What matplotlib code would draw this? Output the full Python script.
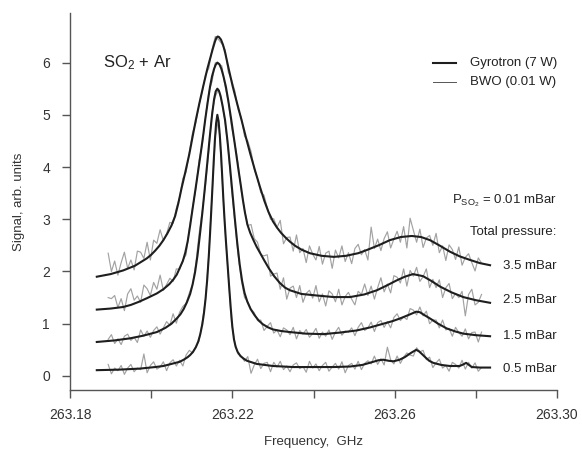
import matplotlib
matplotlib.use("Agg")
import matplotlib.pyplot as plt

plt.rcParams["font.family"] = ["Liberation Sans", "DejaVu Sans"]
plt.rcParams["mathtext.fontset"] = "custom"
plt.rcParams["mathtext.rm"] = "Liberation Sans"
plt.rcParams["mathtext.it"] = "Liberation Sans"

# gyrotron spectra (smooth), one frequency list per pressure
gyro_f_35 = [263.1866, 263.1900, 263.1931, 263.1960, 263.1989, 263.2000, 263.2010, 263.2020,
             263.2030, 263.2040, 263.2050, 263.2059, 263.2067, 263.2075, 263.2084, 263.2094,
             263.2102, 263.2110, 263.2119, 263.2128, 263.2138, 263.2146, 263.2152, 263.2157,
             263.2161, 263.2164, 263.2167, 263.2172, 263.2177, 263.2182, 263.2191, 263.2201,
             263.2212, 263.2223, 263.2233, 263.2244, 263.2256, 263.2268, 263.2279, 263.2289,
             263.2300, 263.2310, 263.2320, 263.2331, 263.2342, 263.2355, 263.2370, 263.2391,
             263.2420, 263.2450, 263.2480, 263.2510, 263.2531, 263.2560, 263.2588, 263.2615,
             263.2642, 263.2665, 263.2687, 263.2710, 263.2736, 263.2760, 263.2786, 263.2810,
             263.2835]
gyro_v_35 = [1.90, 1.95, 2.02, 2.11, 2.25, 2.32, 2.40, 2.49,
             2.60, 2.73, 2.88, 3.06, 3.31, 3.60, 3.90, 4.25,
             4.58, 4.90, 5.23, 5.54, 5.87, 6.10, 6.27, 6.40,
             6.48, 6.50, 6.49, 6.44, 6.34, 6.20, 5.88, 5.54,
             5.21, 4.89, 4.58, 4.26, 3.93, 3.62, 3.35, 3.14,
             2.96, 2.84, 2.74, 2.65, 2.57, 2.49, 2.42, 2.35,
             2.30, 2.28, 2.30, 2.35, 2.41, 2.50, 2.60, 2.66,
             2.68, 2.66, 2.60, 2.50, 2.38, 2.29, 2.22, 2.16,
             2.12]

gyro_f_25 = [263.1866, 263.1900, 263.1931, 263.1950, 263.1970, 263.1990, 263.2014, 263.2030,
             263.2045, 263.2055, 263.2063, 263.2070, 263.2078, 263.2084, 263.2090, 263.2096,
             263.2102, 263.2110, 263.2116, 263.2122, 263.2128, 263.2133, 263.2139, 263.2145,
             263.2150, 263.2155, 263.2159, 263.2163, 263.2168, 263.2173, 263.2178, 263.2184,
             263.2190, 263.2197, 263.2203, 263.2209, 263.2215, 263.2221, 263.2226, 263.2231,
             263.2237, 263.2244, 263.2252, 263.2260, 263.2268, 263.2278, 263.2290, 263.2303,
             263.2317, 263.2330, 263.2342, 263.2370, 263.2408, 263.2450, 263.2490, 263.2525,
             263.2556, 263.2580, 263.2605, 263.2625, 263.2645, 263.2670, 263.2690, 263.2712,
             263.2740, 263.2769, 263.2800, 263.2835]
gyro_v_25 = [1.27, 1.29, 1.32, 1.36, 1.42, 1.49, 1.58, 1.66,
             1.76, 1.85, 1.94, 2.06, 2.20, 2.36, 2.58, 2.88,
             3.20, 3.62, 3.94, 4.26, 4.60, 4.90, 5.23, 5.54,
             5.74, 5.88, 5.96, 6.00, 5.97, 5.88, 5.74, 5.54,
             5.27, 4.92, 4.60, 4.28, 3.95, 3.64, 3.37, 3.13,
             2.90, 2.74, 2.60, 2.47, 2.36, 2.22, 2.06, 1.91,
             1.78, 1.69, 1.64, 1.57, 1.54, 1.51, 1.51, 1.56,
             1.64, 1.73, 1.83, 1.90, 1.95, 1.91, 1.82, 1.71,
             1.60, 1.51, 1.45, 1.40]

gyro_f_15 = [263.1866, 263.1910, 263.1948, 263.1980, 263.2014, 263.2035, 263.2050, 263.2063,
             263.2072, 263.2080, 263.2088, 263.2096, 263.2102, 263.2108, 263.2114, 263.2120,
             263.2126, 263.2132, 263.2138, 263.2144, 263.2150, 263.2155, 263.2159, 263.2163,
             263.2167, 263.2171, 263.2176, 263.2182, 263.2188, 263.2194, 263.2200, 263.2206,
             263.2212, 263.2218, 263.2224, 263.2230, 263.2237, 263.2245, 263.2255, 263.2265,
             263.2275, 263.2288, 263.2300, 263.2320, 263.2342, 263.2380, 263.2424, 263.2465,
             263.2506, 263.2540, 263.2572, 263.2595, 263.2613, 263.2635, 263.2653, 263.2662,
             263.2672, 263.2687, 263.2707, 263.2728, 263.2750, 263.2769, 263.2800, 263.2835]
gyro_v_15 = [0.65, 0.68, 0.72, 0.77, 0.84, 0.92, 1.00, 1.10,
             1.18, 1.28, 1.41, 1.57, 1.75, 1.98, 2.30, 2.70,
             3.12, 3.58, 4.06, 4.55, 5.00, 5.30, 5.45, 5.50,
             5.46, 5.36, 5.17, 4.90, 4.50, 4.02, 3.52, 3.02,
             2.55, 2.14, 1.82, 1.59, 1.42, 1.28, 1.16, 1.06,
             0.99, 0.93, 0.89, 0.86, 0.84, 0.81, 0.80, 0.83,
             0.87, 0.93, 1.00, 1.05, 1.10, 1.17, 1.23, 1.22,
             1.17, 1.10, 1.00, 0.91, 0.85, 0.81, 0.78, 0.76]

gyro_f_05 = [263.1866, 263.1920, 263.1972, 263.2010, 263.2030, 263.2055, 263.2070, 263.2080,
             263.2090, 263.2096, 263.2103, 263.2110, 263.2116, 263.2121, 263.2126, 263.2130,
             263.2134, 263.2138, 263.2142, 263.2145, 263.2148, 263.2151, 263.2154, 263.2157,
             263.2160, 263.2163, 263.2166, 263.2169, 263.2172, 263.2175, 263.2178, 263.2181,
             263.2184, 263.2188, 263.2192, 263.2196, 263.2200, 263.2204, 263.2208, 263.2213,
             263.2220, 263.2228, 263.2236, 263.2248, 263.2260, 263.2300, 263.2350, 263.2450,
             263.2490, 263.2520, 263.2547, 263.2560, 263.2572, 263.2585, 263.2597, 263.2612,
             263.2625, 263.2640, 263.2653, 263.2660, 263.2667, 263.2675, 263.2685, 263.2695,
             263.2715, 263.2736, 263.2760, 263.2769, 263.2776, 263.2783, 263.2790, 263.2810,
             263.2835]
gyro_v_05 = [0.11, 0.12, 0.14, 0.17, 0.19, 0.24, 0.27, 0.31,
             0.36, 0.40, 0.46, 0.55, 0.66, 0.80, 0.99, 1.20,
             1.48, 1.84, 2.30, 2.72, 3.16, 3.62, 4.10, 4.52,
             4.84, 5.00, 4.88, 4.62, 4.26, 3.82, 3.36, 2.96,
             2.60, 2.16, 1.72, 1.30, 0.94, 0.70, 0.56, 0.46,
             0.38, 0.33, 0.29, 0.26, 0.23, 0.19, 0.17, 0.17,
             0.18, 0.21, 0.27, 0.30, 0.31, 0.29, 0.28, 0.31,
             0.36, 0.44, 0.50, 0.47, 0.42, 0.36, 0.29, 0.25,
             0.21, 0.19, 0.19, 0.22, 0.25, 0.21, 0.17, 0.16,
             0.16]

# BWO spectra (noisy), common frequency grid
bwo_f = [263.1894, 263.1902, 263.1910, 263.1918, 263.1926, 263.1934, 263.1942, 263.1950,
         263.1958, 263.1966, 263.1974, 263.1982, 263.1990, 263.1998, 263.2006, 263.2014,
         263.2022, 263.2030, 263.2038, 263.2046, 263.2054, 263.2062, 263.2070, 263.2078,
         263.2086, 263.2094, 263.2102, 263.2110, 263.2118, 263.2126, 263.2134, 263.2142,
         263.2150, 263.2158, 263.2166, 263.2174, 263.2182, 263.2190, 263.2198, 263.2206,
         263.2214, 263.2222, 263.2230, 263.2238, 263.2246, 263.2254, 263.2262, 263.2270,
         263.2278, 263.2286, 263.2294, 263.2302, 263.2310, 263.2318, 263.2326, 263.2334,
         263.2342, 263.2350, 263.2358, 263.2366, 263.2374, 263.2382, 263.2390, 263.2398,
         263.2406, 263.2414, 263.2422, 263.2430, 263.2438, 263.2446, 263.2454, 263.2462,
         263.2470, 263.2478, 263.2486, 263.2494, 263.2502, 263.2510, 263.2518, 263.2526,
         263.2534, 263.2542, 263.2550, 263.2558, 263.2566, 263.2574, 263.2582, 263.2590,
         263.2598, 263.2606, 263.2614, 263.2622, 263.2630, 263.2638, 263.2646, 263.2654,
         263.2662, 263.2670, 263.2678, 263.2686, 263.2694, 263.2702, 263.2710, 263.2718,
         263.2726, 263.2734, 263.2742, 263.2750, 263.2758, 263.2766, 263.2774, 263.2782,
         263.2790, 263.2798, 263.2806, 263.2814]

bwo_35 = [2.35, 2.00, 2.20, 1.93, 2.17, 2.37, 2.06, 2.22, 2.03, 2.39, 2.37, 2.25,
          2.56, 2.22, 2.60, 2.54, 2.80, 2.59, 2.72, 2.94, 2.92, 3.21, 3.42, 3.78,
          3.90, 4.28, 4.66, 4.85, 5.19, 5.45, 5.77, 5.89, 6.25, 6.50, 6.44, 6.36,
          6.25, 5.82, 5.67, 5.46, 5.11, 4.95, 4.59, 4.50, 4.30, 3.96, 3.78, 3.51,
          3.46, 3.22, 3.00, 3.01, 2.84, 2.98, 2.53, 2.65, 2.66, 2.39, 2.70, 2.36,
          2.44, 2.17, 2.49, 2.33, 2.22, 2.48, 2.14, 2.35, 2.39, 2.06, 2.41, 2.26,
          2.49, 2.19, 2.36, 2.15, 2.44, 2.52, 2.32, 2.42, 2.22, 2.85, 2.44, 2.62,
          2.40, 2.63, 2.76, 2.45, 2.62, 2.77, 2.56, 2.86, 2.45, 3.02, 2.79, 2.56,
          2.81, 2.46, 2.64, 2.69, 2.50, 2.73, 2.36, 2.49, 2.21, 2.51, 2.42, 2.23,
          2.47, 2.12, 2.27, 2.34, 2.17, 2.01, 2.26, 2.16]

bwo_25 = [1.50, 1.48, 1.54, 1.31, 1.48, 1.25, 1.57, 1.67, 1.45, 1.53, 1.41, 1.74,
          1.67, 1.54, 1.79, 1.66, 1.93, 1.64, 1.75, 1.87, 1.81, 2.05, 2.04, 2.22,
          2.32, 2.82, 3.22, 3.58, 4.13, 4.43, 4.98, 5.43, 5.64, 6.00, 5.97, 5.94,
          5.55, 5.26, 4.77, 4.46, 4.07, 3.54, 3.18, 2.88, 2.90, 2.63, 2.56, 2.32,
          2.30, 2.32, 1.91, 1.95, 1.97, 1.66, 1.88, 1.47, 1.68, 1.72, 1.50, 1.73,
          1.41, 1.58, 1.64, 1.49, 1.73, 1.42, 1.57, 1.34, 1.63, 1.57, 1.42, 1.66,
          1.36, 1.52, 1.60, 1.47, 1.36, 1.62, 1.56, 1.76, 1.54, 1.72, 1.47, 1.69,
          1.88, 1.61, 1.76, 1.59, 1.92, 1.89, 1.78, 2.05, 1.72, 2.02, 1.91, 2.08,
          1.81, 1.90, 2.05, 1.69, 1.85, 1.69, 1.84, 1.50, 1.69, 1.77, 1.48, 1.58,
          1.50, 1.62, 1.15, 1.56, 1.66, 1.36, 1.41, 1.56]

bwo_15 = [0.70, 0.79, 0.62, 0.71, 0.60, 0.76, 0.80, 0.68, 0.74, 0.64, 0.88, 0.76,
          0.86, 0.74, 0.87, 0.94, 0.80, 0.92, 1.04, 0.97, 1.19, 1.01, 1.22, 1.33,
          1.39, 1.59, 1.75, 2.15, 2.72, 3.16, 3.67, 4.32, 5.06, 5.35, 5.49, 5.24,
          4.88, 4.31, 3.58, 2.96, 2.33, 1.84, 1.50, 1.42, 1.28, 1.21, 1.06, 1.07,
          0.87, 0.95, 1.02, 0.82, 0.88, 0.75, 0.92, 0.88, 0.79, 0.93, 0.71, 0.87,
          0.80, 0.89, 0.74, 0.81, 0.91, 0.72, 0.84, 0.76, 0.88, 0.70, 0.84, 0.93,
          0.78, 0.86, 0.84, 0.92, 0.77, 0.93, 1.02, 0.87, 0.92, 1.03, 0.85, 1.02,
          1.06, 0.93, 1.04, 0.92, 1.12, 1.19, 1.06, 1.13, 1.08, 1.29, 1.26, 1.17,
          1.32, 1.15, 1.24, 1.00, 1.07, 1.07, 0.92, 1.07, 0.88, 0.91, 0.76, 0.93,
          0.83, 0.76, 0.90, 0.71, 0.83, 0.84, 0.65, 0.84]

bwo_05 = [0.22, 0.04, 0.15, 0.10, 0.20, 0.03, 0.15, 0.22, 0.08, 0.15, 0.12, 0.42,
          0.06, 0.20, 0.27, 0.13, 0.17, 0.27, 0.10, 0.25, 0.31, 0.19, 0.30, 0.19,
          0.40, 0.49, 0.44, 0.55, 0.67, 1.04, 1.47, 2.32, 3.48, 4.59, 4.90, 3.91,
          2.81, 1.92, 1.02, 0.63, 0.42, 0.38, 0.28, 0.37, 0.05, 0.21, 0.32, 0.14,
          0.24, 0.26, 0.08, 0.26, 0.17, 0.28, 0.12, 0.19, 0.08, 0.21, 0.25, 0.14,
          0.18, 0.07, 0.28, 0.15, 0.23, 0.10, 0.20, 0.26, 0.09, 0.17, 0.24, 0.13,
          0.27, 0.06, 0.20, 0.24, 0.13, 0.28, 0.12, 0.24, 0.29, 0.23, 0.38, 0.22,
          0.33, 0.21, 0.55, 0.31, 0.23, 0.38, 0.24, 0.36, 0.44, 0.40, 0.38, 0.54,
          0.46, 0.49, 0.31, 0.36, 0.16, 0.25, 0.32, 0.15, 0.20, 0.09, 0.26, 0.22,
          0.15, 0.30, 0.13, 0.26, 0.15, 0.25, 0.09, 0.16]

pressure_labels = ["3.5 mBar", "2.5 mBar", "1.5 mBar", "0.5 mBar"]
label_y = [2.10, 1.45, 0.76, 0.13]

fig = plt.figure(figsize=(5.82, 4.5), dpi=100)
ax = fig.add_axes([0.1203, 0.1333, 0.8368, 0.8378])

grey = "#a2a2a2"
dark = "#1e1e1e"
for bwo in [bwo_35, bwo_25, bwo_15, bwo_05]:
    ax.plot(bwo_f, bwo, color=grey, lw=0.85, zorder=2)

gyro = [(gyro_f_35, gyro_v_35), (gyro_f_25, gyro_v_25),
        (gyro_f_15, gyro_v_15), (gyro_f_05, gyro_v_05)]
for f, v in gyro:
    ax.plot(f, v, color=dark, lw=1.5, zorder=3, solid_joinstyle="round")

ax.set_xlim(263.18, 263.30)
ax.set_ylim(-0.27, 6.95)
ax.set_xticks([263.18, 263.20, 263.22, 263.24, 263.26, 263.28, 263.30])
ax.set_xticklabels(["263.18", "", "263.22", "", "263.26", "", "263.30"])
ax.set_yticks([0, 1, 2, 3, 4, 5, 6])
for side in ["top", "right"]:
    ax.spines[side].set_visible(False)
for side in ["left", "bottom"]:
    ax.spines[side].set_color("#555555")
    ax.spines[side].set_linewidth(1.0)
ax.tick_params(direction="out", length=6, width=1.0, color="#555555",
               labelsize=10, labelcolor="#333333")
ax.tick_params(axis="x", pad=7)
ax.tick_params(axis="y", pad=8.5)

ax.set_xlabel("Frequency,  GHz", fontsize=9.5, color="#333333", labelpad=10)
ax.set_ylabel("Signal, arb. units", fontsize=9.5, color="#333333", labelpad=12)

ax.text(263.1881, 6.0, r"SO$_2$ + Ar", fontsize=12, color="#222222", va="center")

# legend
ax.plot([263.2694, 263.2750], [5.99, 5.99], color=dark, lw=1.5)
ax.plot([263.2694, 263.2750], [5.63, 5.63], color="#555555", lw=0.7)
ax.text(263.2785, 5.99, "Gyrotron (7 W)", fontsize=9.5, color="#222222", va="center")
ax.text(263.2785, 5.63, "BWO (0.01 W)", fontsize=9.5, color="#222222", va="center")

ax.text(263.2998, 3.35, r"P$_{\mathregular{SO_2}}$ = 0.01 mBar", fontsize=9.5,
        color="#222222", ha="right", va="center")
ax.text(263.2998, 2.75, "Total pressure:", fontsize=9.5, color="#222222",
        ha="right", va="center")
for lab, y in zip(pressure_labels, label_y):
    ax.text(263.2998, y, lab, fontsize=9.5, color="#222222", ha="right", va="center")

fig.savefig("out.png", dpi=100)
